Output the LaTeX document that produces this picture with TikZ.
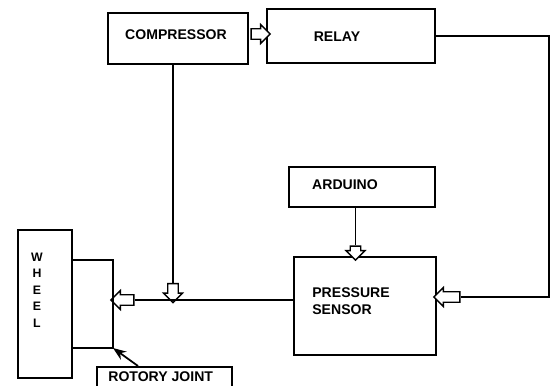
\documentclass[tikz,border=0pt]{standalone}
\usepackage{fontspec}
\setmainfont{Liberation Sans}
\usepackage{tikz}
\usetikzlibrary{shapes.arrows, arrows.meta, positioning}

\begin{document}
\begin{tikzpicture}[x=0.02cm, y=-0.02cm, >=Stealth,
    box/.style={rectangle, draw=black, line width=1pt, fill=white, inner sep=0pt},
    txt/.style={font=\bfseries\fontsize{8}{9.5}\selectfont, inner sep=0pt},
    hollow/.style={single arrow, draw=black, line width=0.8pt, fill=white, inner xsep=0pt, inner ysep=2.6pt, single arrow head extend=2.4pt},
    wire/.style={draw=black, line width=1pt}]

    \useasboundingbox (0,0) rectangle (550,385);

    % blocks
    \node [box, minimum width=2.8cm, minimum height=1.02cm] (comp) at (178,38.5) {};
    \node [box, minimum width=3.36cm, minimum height=1.08cm] (relay) at (351,36) {};
    \node [box, minimum width=2.92cm, minimum height=0.8cm] (arduino) at (362,187) {};
    \node [box, minimum width=2.84cm, minimum height=1.96cm] (sensor) at (365,306) {};
    \node [box, minimum width=1.08cm, minimum height=2.96cm] (wheel) at (45,304) {};
    \node [box, minimum width=2.7cm, minimum height=0.5cm] (joint) at (164.5,379.5) {};

    % texts
    \node [txt] (comptxt) at (176,35) {COMPRESSOR};
    \node [txt] (relaytxt) at (337,37) {RELAY};
    \node [txt] (arduinotxt) at (345,185) {ARDUINO};
    \node [txt, anchor=west, align=left] (sensortxt) at (312,301) {PRESSURE\\SENSOR};
    \node [txt, align=center, font=\bfseries\fontsize{7}{9.4}\selectfont] (wheeltxt) at (37,290) {W\\H\\E\\E\\L};
    \node [txt, anchor=west] (jointtxt) at (108,377) {ROTORY JOINT};

    % hollow arrows
    \node [hollow, minimum height=0.38cm] (a1) at (258,34) {};
    \node [hollow, minimum height=0.52cm, shape border rotate=180] (a2) at (449.5,297) {};
    \node [hollow, minimum height=0.28cm, rotate=-90] (a3) at (355.5,250.5) {};
    \node [hollow, minimum height=0.38cm, rotate=-90] (a4) at (173,290.5) {};
    \node [hollow, minimum height=0.46cm, shape border rotate=180] (a5) at (125,300) {};

    % joint points
    \coordinate (jtop) at (113,260);
    \coordinate (jt) at (113,348);
    \coordinate (jl) at (138,366);

    % connections
    \draw[wire] (relay.east) -- ++(113,0) |- (a2.east);
    \draw[wire] (arduino.south -| a3) -- (a3.west);
    \draw[wire] (comp.south -| a4) -- (a4.west);
    \draw[wire] (a5.east -| sensor.west) -- (a5.east);
    \draw[wire] (jtop -| wheel.east) -- (jtop) -- (jt) -- (jt -| wheel.east);
    \draw[wire, ->] (jl) -- (jt);
\end{tikzpicture}
\end{document}
